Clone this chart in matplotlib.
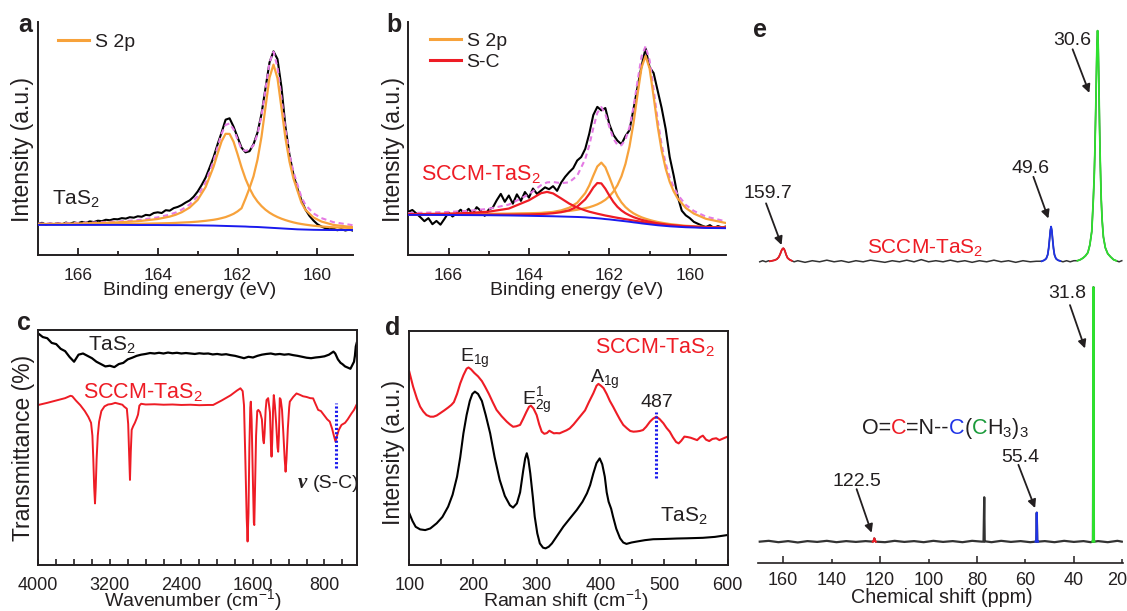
import numpy as np
import matplotlib
matplotlib.use('Agg')
import matplotlib.pyplot as plt
from matplotlib.lines import Line2D
from matplotlib import transforms

plt.rcParams['font.family'] = ['Liberation Sans', 'DejaVu Sans']
plt.rcParams['mathtext.fontset'] = 'custom'
plt.rcParams['mathtext.rm'] = 'Liberation Sans'
plt.rcParams['mathtext.it'] = 'Liberation Sans:italic'
plt.rcParams['mathtext.bf'] = 'Liberation Sans:bold'

INK = '#231f20'
ORANGE = '#f7a23b'
RED = '#ee1c25'
BLUE = '#1a1aee'
PINK = '#e47ae4'
GREEN = '#2ee02e'
E_BLUE = '#1f33e6'

# ---------------- XPS (a, b): fit components on a shared energy grid ----------------
xps_ev = [167.0, 166.5, 166.0, 165.5, 165.0, 164.5, 164.0, 163.7, 163.55, 163.4,
          163.2, 163.0, 162.8, 162.6, 162.5, 162.4, 162.3, 162.2, 162.1, 162.0,
          161.9, 161.8, 161.7, 161.6, 161.5, 161.4, 161.3, 161.2, 161.1, 161.0,
          160.9, 160.8, 160.7, 160.6, 160.5, 160.4, 160.3, 160.1, 159.9, 159.6, 159.1]

# panel a: TaS2
a_background = [12.9, 12.9, 12.9, 12.9, 12.9, 12.85, 12.85, 12.8, 12.8, 12.8,
                12.75, 12.7, 12.65, 12.6, 12.55, 12.5, 12.45, 12.4, 12.35, 12.3,
                12.25, 12.2, 12.1, 12.05, 12.0, 11.9, 11.8, 11.7, 11.6, 11.5,
                11.4, 11.3, 11.2, 11.1, 11.0, 10.95, 10.9, 10.8, 10.75, 10.7, 10.7]
a_s2p_hi = [0.37, 0.46, 0.59, 0.79, 1.09, 1.61, 2.59, 3.66, 4.45, 5.52,
            7.6, 10.9, 16.5, 25.3, 30.9, 36.2, 39.5, 39.5, 36.2, 30.9,
            25.3, 20.4, 16.5, 13.3, 10.9, 9.07, 7.6, 6.44, 5.52, 4.77,
            4.16, 3.66, 3.24, 2.88, 2.59, 2.33, 2.11, 1.75, 1.48, 1.17, 0.84]
a_s2p_lo = [0.17, 0.2, 0.25, 0.3, 0.38, 0.5, 0.69, 0.86, 0.96, 1.1,
            1.3, 1.6, 2.0, 2.5, 2.85, 3.3, 3.8, 4.5, 5.3, 6.4,
            7.8, 12.0, 16.6, 21.7, 28.9, 38.8, 51.6, 64.3, 70.0, 64.3,
            51.6, 38.8, 28.9, 21.7, 16.6, 11.5, 8.5, 5.3, 3.6, 2.2, 1.2]

# panel b: SCCM-TaS2
b_background = [17.2, 17.2, 17.15, 17.1, 17.05, 16.95, 16.8, 16.7, 16.65, 16.6,
                16.5, 16.4, 16.3, 16.15, 16.0, 15.9, 15.75, 15.6, 15.4, 15.25,
                15.05, 14.85, 14.65, 14.45, 14.25, 14.0, 13.8, 13.55, 13.35, 13.15,
                12.95, 12.75, 12.6, 12.45, 12.3, 12.2, 12.1, 11.9, 11.8, 11.6, 11.5]
b_s2p_lo = [0.27, 0.32, 0.39, 0.48, 0.61, 0.8, 1.09, 1.35, 1.52, 1.72,
            2.06, 2.49, 3.09, 3.92, 4.47, 5.13, 5.95, 6.96, 8.26, 9.93,
            12.1, 15.06, 19.05, 24.6, 32.2, 42.5, 55.0, 66.8, 72.0, 66.8,
            55.0, 42.5, 32.2, 24.6, 19.05, 15.06, 12.1, 8.26, 5.95, 3.92, 2.2]
b_s2p_hi = [0.13, 0.16, 0.2, 0.27, 0.37, 0.54, 0.88, 1.24, 1.51, 1.88,
            2.62, 3.86, 6.09, 10.4, 13.8, 18.1, 22.2, 24.0, 22.2, 18.1,
            13.8, 10.4, 7.9, 6.09, 4.8, 3.86, 3.15, 2.62, 2.21, 1.88,
            1.62, 1.41, 1.24, 1.1, 0.98, 0.88, 0.79, 0.63, 0.54, 0.43, 0.3]
b_sc_hi = [0.31, 0.41, 0.59, 0.9, 1.52, 2.96, 6.66, 9.79, 10.4, 9.79,
           7.76, 5.65, 4.06, 2.96, 2.56, 2.23, 1.95, 1.72, 1.52, 1.36,
           1.21, 1.09, 0.99, 0.9, 0.82, 0.75, 0.69, 0.64, 0.59, 0.55,
           0.51, 0.48, 0.45, 0.42, 0.39, 0.37, 0.35, 0.31, 0.28, 0.24, 0.19]
b_sc_lo = [0.08, 0.10, 0.13, 0.18, 0.25, 0.36, 0.59, 0.85, 1.04, 1.31,
           1.84, 2.75, 4.44, 7.7, 10.2, 13.0, 15.1, 15.1, 13.0, 10.2,
           7.7, 5.8, 4.44, 3.46, 2.75, 2.23, 1.84, 1.54, 1.31, 1.12,
           0.97, 0.85, 0.75, 0.67, 0.59, 0.53, 0.48, 0.39, 0.32, 0.27, 0.19]

# measured spectra, 0.1 eV steps from 167.0 to 159.1
raw_ev = np.round(np.arange(167.0, 159.05, -0.1), 1)
a_raw = [13.3, 13.8, 13.0, 13.5, 13.2, 13.7, 13.1, 13.9, 13.4, 14.0,
         13.6, 14.2, 13.8, 14.4, 14.1, 14.7, 14.5, 15.1, 14.9, 15.4,
         15.3, 15.8, 15.6, 16.2, 16.0, 16.6, 16.4, 17.2, 17.0, 18.0,
         18.3, 18.0, 19.2, 19.0, 20.1, 20.6, 21.4, 22.5, 23.4, 25.0,
         27.2, 30.0, 33.2, 37.5, 42.0, 47.5, 52.5, 58.0, 58.6, 55.0,
         50.5, 46.0, 44.0, 44.5, 47.5, 52.5, 60.5, 71.5, 82.5, 87.3,
         84.0, 72.0, 55.0, 43.0, 34.5, 28.5, 23.5, 19.5, 16.8, 14.8,
         13.2, 12.2, 11.5, 11.0, 11.3, 10.6, 11.1, 10.5, 10.9, 10.4]
b_raw = [18.5, 19.3, 17.8, 16.2, 14.5, 15.8, 13.2, 14.6, 13.0, 15.5,
         18.2, 16.5, 17.8, 19.4, 18.0, 19.8, 17.6, 20.5, 19.0, 16.8,
         19.5, 20.3, 23.5, 26.2, 22.8, 25.5, 22.0, 26.0, 23.2, 27.0,
         24.6, 28.5, 26.2, 27.6, 29.0, 28.2, 29.5, 27.5, 31.0, 33.5,
         35.5, 37.2, 40.5, 42.0, 45.5, 52.0, 60.0, 63.5, 62.0, 63.0,
         56.0, 51.5, 49.0, 47.5, 51.0, 53.5, 62.5, 72.0, 81.0, 88.5,
         80.5, 78.0, 70.5, 63.0, 54.0, 42.0, 34.0, 25.0, 19.0, 17.0,
         15.8, 14.2, 13.4, 12.6, 12.0, 12.8, 11.6, 12.4, 11.8, 12.2]

# ---------------- FTIR (c) ----------------
tas2_ir_wn = [4000, 3950, 3900, 3850, 3800, 3750, 3700, 3650, 3600, 3550,
              3500, 3450, 3400, 3350, 3300, 3250, 3200, 3150, 3100, 3050,
              3000, 2950, 2900, 2850, 2800, 2750, 2700, 2650, 2600, 2550,
              2500, 2450, 2400, 2350, 2300, 2250, 2200, 2150, 2100, 2050,
              2000, 1950, 1900, 1850, 1800, 1750, 1700, 1650, 1600, 1550,
              1500, 1450, 1400, 1350, 1300, 1250, 1200, 1150, 1100, 1050,
              1000, 950, 900, 850, 800, 750, 700, 680, 650, 620,
              600, 570, 540, 510, 490, 470, 460, 450, 440]
tas2_ir_t = [98.5, 97.0, 96.5, 94.5, 94.0, 92.0, 91.0, 88.5, 86.5, 89.5,
             90.0, 89.0, 88.0, 86.5, 85.5, 84.5, 84.8, 84.2, 85.5, 86.0,
             87.5, 88.2, 89.0, 89.5, 89.8, 90.2, 90.0, 90.3, 90.0, 90.4,
             90.1, 90.3, 90.0, 90.2, 90.0, 89.8, 90.1, 89.9, 90.0, 89.6,
             89.8, 89.5, 89.7, 89.3, 89.0, 88.5, 88.0, 88.6, 88.3, 89.0,
             89.5, 89.8, 90.0, 89.6, 89.8, 89.5, 89.7, 89.3, 89.0, 88.6,
             88.2, 88.0, 88.3, 88.5, 88.8, 89.5, 90.8, 90.0, 87.5, 86.0,
             85.5, 84.5, 84.0, 83.5, 85.0, 86.5, 89.0, 93.0, 94.5]
sccm_ir_wn = [4000, 3900, 3800, 3700, 3640, 3620, 3580, 3530, 3480, 3440,
              3410, 3395, 3385, 3375, 3366, 3358, 3348, 3335, 3320, 3295,
              3260, 3220, 3180, 3140, 3100, 3060, 3040, 3010, 2995, 2985,
              2975, 2966, 2956, 2940, 2920, 2900, 2885, 2870, 2850, 2800,
              2700, 2600, 2500, 2400, 2300, 2200, 2100, 2045, 1950, 1850,
              1780, 1740, 1715, 1700, 1685, 1670, 1660, 1650, 1640, 1630,
              1624, 1615, 1600, 1590, 1585, 1578, 1565, 1552, 1540, 1520,
              1500, 1485, 1478, 1470, 1458, 1448, 1430, 1410, 1398, 1392,
              1385, 1375, 1367, 1355, 1340, 1325, 1318, 1310, 1300, 1290,
              1275, 1260, 1245, 1235, 1225, 1210, 1195, 1188, 1150, 1113,
              1080, 1040, 1000, 960, 927, 900, 871, 840, 800, 770,
              741, 715, 695, 677, 660, 640, 610, 570, 540, 498,
              470, 443]
sccm_ir_t = [68.1, 69.0, 70.0, 71.0, 72.0, 71.8, 70.0, 68.0, 65.5, 63.0,
             60.5, 55.0, 45.0, 33.0, 26.2, 33.0, 45.0, 55.0, 61.0, 65.5,
             67.5, 68.3, 68.5, 69.0, 68.6, 68.2, 67.4, 66.5, 60.0, 48.0,
             36.2, 48.0, 57.5, 59.0, 60.5, 62.4, 64.0, 67.8, 68.6, 68.3,
             68.4, 68.2, 68.3, 68.1, 68.2, 68.0, 68.1, 68.1, 70.0, 72.2,
             74.2, 75.2, 74.0, 68.0, 45.0, 20.0, 10.0, 22.0, 50.0, 67.0,
             69.5, 62.0, 35.0, 18.0, 17.0, 30.0, 55.0, 65.5, 66.0, 65.0,
             62.0, 53.0, 51.8, 56.0, 66.0, 70.2, 71.0, 65.0, 50.0, 46.1,
             52.0, 66.0, 72.3, 68.0, 60.0, 50.0, 48.2, 55.0, 71.0, 70.5,
             66.0, 56.0, 45.0, 39.7, 45.0, 58.0, 67.0, 69.5, 71.5, 73.0,
             72.5, 71.8, 71.5, 71.0, 70.9, 68.5, 66.0, 65.5, 63.5, 62.0,
             61.0, 58.0, 55.0, 52.5, 55.0, 57.5, 59.6, 60.5, 62.0, 64.5,
             66.0, 68.1]
sc_band_wn = 666

# ---------------- Raman (d) ----------------
sccm_raman_x = [100, 106, 112, 117, 122, 127, 133, 138, 143, 148,
                155, 161, 166, 170, 175, 180, 185, 190, 193, 197,
                202, 208, 214, 219, 225, 231, 237, 245, 253, 258,
                263, 268, 274, 279, 284, 288, 291, 295, 300, 304,
                308, 312, 316, 320, 323, 327, 331, 336, 341, 347,
                352, 358, 364, 370, 376, 382, 389, 394, 397, 401,
                405, 410, 415, 420, 426, 431, 436, 442, 447, 452,
                457, 462, 467, 472, 478, 483, 488, 493, 499, 504,
                509, 514, 519, 523, 527, 532, 537, 542, 547, 552,
                557, 561, 566, 571, 576, 582, 587, 593, 600]
sccm_raman_i = [82.5, 76.1, 71.0, 67.6, 65.5, 64.0, 63.3, 63.3, 63.8, 64.7,
                66.0, 67.2, 68.3, 69.5, 73.0, 77.5, 81.0, 83.8, 84.3, 83.5,
                82.0, 80.5, 78.5, 76.1, 73.0, 69.5, 66.2, 63.5, 61.2, 60.0,
                59.0, 59.2, 59.8, 62.5, 65.4, 67.5, 68.0, 66.8, 64.0, 60.0,
                56.9, 56.0, 56.3, 57.3, 56.8, 56.2, 56.3, 56.2, 56.8, 57.5,
                58.3, 60.0, 62.0, 64.0, 66.0, 69.5, 73.3, 76.5, 77.3, 76.5,
                75.5, 73.0, 70.0, 67.6, 64.5, 62.0, 59.8, 58.3, 57.2, 56.9,
                57.0, 57.2, 57.6, 59.0, 61.2, 62.5, 63.3, 62.3, 60.5, 58.5,
                56.9, 54.5, 52.5, 51.9, 53.0, 54.8, 54.6, 54.3, 53.8, 53.3,
                54.6, 55.2, 53.5, 52.9, 53.8, 54.1, 53.3, 54.0, 54.8]
tas2_raman_x = [100, 105, 110, 117, 125, 133, 143, 152, 161, 168,
                175, 180, 185, 190, 195, 199, 203, 208, 214, 220,
                227, 234, 242, 250, 258, 263, 269, 274, 279, 282,
                284.5, 287, 290, 294, 297, 301, 305, 310, 314, 319,
                324, 333, 342, 352, 363, 372, 379, 384, 389, 394,
                399, 403, 407, 410, 413, 417, 420, 425, 431, 436,
                441, 449, 457, 470, 483, 500, 520, 536, 561, 580, 600]
tas2_raman_i = [22.1, 18.8, 16.3, 15.2, 14.9, 15.6, 17.8, 20.5, 24.9, 30.0,
                37.7, 46.0, 56.2, 64.0, 70.0, 73.0, 74.0, 73.0, 70.0, 64.0,
                56.2, 46.0, 36.3, 29.5, 25.5, 24.5, 26.3, 31.0, 40.5, 45.5,
                47.7, 45.0, 39.1, 29.0, 20.6, 13.5, 9.2, 7.4, 7.1, 7.8,
                9.2, 12.8, 16.4, 19.8, 23.5, 27.0, 30.6, 34.1, 39.1, 43.5,
                45.5, 43.0, 37.7, 31.0, 27.0, 24.0, 20.6, 15.5, 11.4, 9.6,
                9.0, 9.6, 10.0, 10.6, 11.0, 11.1, 11.3, 11.4, 11.6, 12.0, 12.8]
sc_raman_band = 487

# ---------------- 13C NMR (e) ----------------
e_top_ppm = [169.7, 168.5, 167.2, 166.0, 165.5, 164.5, 163.5, 162.6, 161.8, 161.2,
             160.7, 160.3, 160.0, 159.7, 159.3, 158.8, 158.2, 157.4, 156.5, 155.5,
             154, 151, 148, 145, 142, 139, 136, 133, 130, 127,
             124, 121, 118, 115, 112, 109, 106, 103, 100, 97,
             94, 91, 88, 85, 82, 79, 76, 73, 70, 67,
             64, 61, 58, 55.5, 53.3, 52.2, 51.4, 50.8, 50.4, 50.0,
             49.7, 49.4, 49.1, 48.8, 48.4, 48.0, 47.4, 46.6, 45.6, 44.5,
             43, 41.5, 40, 38.5, 37.3, 36.2, 35.2, 34.2, 33.4, 32.6,
             32.0, 31.6, 31.3, 31.0, 30.7, 30.45, 30.2, 29.95, 29.7, 29.4,
             29.1, 28.7, 28.3, 27.8, 27.0, 26.0, 24.8, 23.6, 22.5, 21.3, 20.2]
e_top_y = [55.7, 55.9, 55.7, 55.9, 55.8, 55.9, 56.0, 56.2, 56.6, 57.2,
           57.8, 58.1, 58.2, 58.1, 57.7, 57.0, 56.4, 56.1, 55.9, 55.7,
           55.9, 55.6, 55.9, 55.7, 56.0, 55.7, 55.9, 55.6, 55.9, 55.7,
           56.0, 55.8, 55.6, 55.9, 55.7, 56.0, 55.7, 56.1, 55.7, 55.9,
           55.7, 56.0, 55.7, 55.9, 55.6, 55.9, 55.7, 56.0, 55.7, 55.9,
           55.6, 55.9, 55.7, 55.8, 55.8, 56.0, 56.3, 57.0, 58.2, 60.0,
           61.5, 62.2, 61.5, 60.0, 58.2, 57.0, 56.3, 56.0, 55.85, 55.7,
           55.9, 55.7, 55.9, 55.9, 56.1, 56.4, 56.8, 57.4, 58.8, 61.3,
           66.8, 71.3, 76.3, 82.8, 89.8, 95.8, 98.4, 95.8, 89.8, 81.3,
           74.3, 67.3, 63.3, 60.3, 58.3, 57.2, 56.6, 56.1, 55.9, 55.7, 55.9]
e_ref_ppm = [169.7, 166, 162, 158, 154, 150, 146, 142, 138, 134,
             130, 126, 123.0, 122.6, 122.4, 122.2, 121.8, 118, 114, 110,
             106, 102, 98, 94, 90, 86, 82, 78, 77.3, 77.0,
             76.8, 76.5, 74, 70, 66, 62, 58, 55.8, 55.5, 55.3,
             55.1, 54.8, 52, 48, 44, 40, 36, 33, 32.3, 32.1,
             31.9, 31.7, 31.5, 30, 26, 22, 20.2]
e_ref_y = [4.0, 4.15, 3.9, 4.1, 3.85, 4.1, 3.95, 4.15, 3.9, 4.1,
           3.95, 4.1, 4.0, 4.2, 4.6, 4.2, 4.0, 3.9, 4.15, 3.95,
           4.1, 3.9, 4.15, 3.95, 4.1, 3.9, 4.15, 4.0, 4.0, 12.2,
           4.0, 4.05, 3.9, 4.15, 3.95, 4.1, 3.9, 4.0, 4.0, 9.35,
           4.0, 4.0, 4.1, 3.9, 4.15, 3.95, 4.1, 3.9, 4.0, 4.0,
           51.0, 4.0, 4.0, 4.1, 3.9, 4.15, 4.0]
e_top_segments = [(RED, 165.5, 156.5), (E_BLUE, 53.3, 45.6), (GREEN, 38.5, 22.5)]
e_ref_segments = [(RED, 123.0, 121.8), (E_BLUE, 55.8, 54.8), (GREEN, 32.3, 31.5)]


def chain_text(ax, x, y, parts, **kw):
    """draw consecutive text pieces in different colours on one baseline"""
    renderer = ax.figure.canvas.get_renderer()
    shift = 0.0
    for piece, color in parts:
        tr = transforms.offset_copy(ax.transData, fig=ax.figure, x=shift, y=0, units='dots')
        t = ax.text(x, y, piece, color=color, ha='left', va='baseline', transform=tr, **kw)
        shift += t.get_window_extent(renderer).width


def style_xps(ax):
    ax.set_xlim(167, 159.1)
    ax.set_ylim(0, 100)
    for s in ('top', 'right'):
        ax.spines[s].set_visible(False)
    for s in ('left', 'bottom'):
        ax.spines[s].set_linewidth(1.4)
        ax.spines[s].set_color(INK)
    ax.set_yticks([])
    ax.set_xticks([166, 164, 162, 160])
    ax.set_xticks([165, 163, 161], minor=True)
    ax.tick_params(axis='x', which='both', direction='in', color=INK, labelcolor=INK,
                   labelsize=12.5, pad=9.0, width=1.3)
    ax.tick_params(axis='x', which='major', length=5)
    ax.tick_params(axis='x', which='minor', length=3)


def style_box(ax):
    for s in ax.spines.values():
        s.set_linewidth(1.4)
        s.set_color(INK)
    ax.set_yticks([])
    ax.tick_params(axis='x', which='both', direction='in', color=INK, labelcolor=INK,
                   labelsize=13, pad=8.4, width=1.2, length=4)


def s2p_legend(ax, handles, labels, anchor):
    ax.legend(handles=handles, labels=labels, loc='upper left', bbox_to_anchor=anchor,
              frameon=False, fontsize=14, handlelength=1.6, handletextpad=0.3,
              borderpad=0.2, borderaxespad=0, labelspacing=0.15, labelcolor=INK)


fig = plt.figure(figsize=(11.27, 6.11), dpi=100)
ax_a = fig.add_axes([0.03372, 0.58265, 0.27977, 0.38183])
ax_b = fig.add_axes([0.36229, 0.58265, 0.28190, 0.38183])
ax_c = fig.add_axes([0.03398, 0.07529, 0.28252, 0.38462])
ax_d = fig.add_axes([0.36317, 0.07529, 0.28252, 0.38347])
ax_e = fig.add_axes([0.67285, 0.07807, 0.32360, 0.88592])

# ---- a ----
ev = np.array(xps_ev)
bg = np.array(a_background)
c1 = np.array(a_s2p_hi)
c2 = np.array(a_s2p_lo)
ax_a.plot(raw_ev, a_raw, color='black', lw=1.5, zorder=3)
ax_a.plot(ev, bg + c1 + c2, color=PINK, lw=1.5, ls=(0, (2.5, 1.8)), zorder=4)
ax_a.plot(ev, bg + c1, color=ORANGE, lw=1.6, zorder=5)
ax_a.plot(ev, bg + c2, color=ORANGE, lw=1.6, zorder=5)
ax_a.plot(ev, bg, color=BLUE, lw=1.4, zorder=6)
style_xps(ax_a)
s2p_legend(ax_a, [Line2D([], [], color=ORANGE, lw=2.2)], ['S 2p'], (0.05, 0.968))
ax_a.text(166.64, 21.4, 'TaS$_2$', fontsize=15, color=INK, ha='left', va='baseline')

# ---- b ----
bg = np.array(b_background)
o1 = np.array(b_s2p_lo)
o2 = np.array(b_s2p_hi)
r1 = np.array(b_sc_hi)
r2 = np.array(b_sc_lo)
ax_b.plot(raw_ev, b_raw, color='black', lw=1.5, zorder=3)
ax_b.plot(ev, bg + o1 + o2 + r1 + r2, color=PINK, lw=1.5, ls=(0, (2.5, 1.8)), zorder=4)
ax_b.plot(ev, bg + o1, color=ORANGE, lw=1.6, zorder=5)
ax_b.plot(ev, bg + o2, color=ORANGE, lw=1.6, zorder=5)
ax_b.plot(ev, bg + r1, color=RED, lw=1.6, zorder=5)
ax_b.plot(ev, bg + r2, color=RED, lw=1.6, zorder=5)
ax_b.plot(ev, bg, color=BLUE, lw=1.4, zorder=6)
style_xps(ax_b)
s2p_legend(ax_b, [Line2D([], [], color=ORANGE, lw=2.2), Line2D([], [], color=RED, lw=2.2)],
           ['S 2p', 'S-C'], (0.055, 0.97))
ax_b.text(166.69, 32.1, 'SCCM-TaS$_2$', fontsize=15.5, color=RED, ha='left', va='baseline')

# ---- c ----
ax_c.plot(tas2_ir_wn, tas2_ir_t, color='black', lw=1.6)
ax_c.plot(sccm_ir_wn, sccm_ir_t, color=RED, lw=1.4)
ax_c.vlines(sc_band_wn, 41.1, 68.8, colors=BLUE, lw=2.2, linestyles=(0, (0.7, 0.7)))
ax_c.set_xlim(4000, 440)
ax_c.set_ylim(0, 100)
style_box(ax_c)
ax_c.set_xticks([4000, 3200, 2400, 1600, 800])
ax_c.set_xticks(list(range(3800, 440, -200)), minor=True)
ax_c.text(3441, 91.1, 'TaS$_2$', fontsize=15, color=INK, ha='left', va='baseline')
ax_c.text(3497, 71.1, 'SCCM-TaS$_2$', fontsize=15.5, color=RED, ha='left', va='baseline')
ax_c.text(1095, 32.6, 'ν', fontsize=15, color=INK, ha='left', va='baseline',
          family='Liberation Serif', weight='bold', style='italic')
ax_c.text(927, 32.6, '(S-C)', fontsize=14, color=INK, ha='left', va='baseline')

# ---- d ----
ax_d.plot(sccm_raman_x, sccm_raman_i, color=RED, lw=1.5)
ax_d.plot(tas2_raman_x, tas2_raman_i, color='black', lw=1.5)
ax_d.vlines(sc_raman_band, 37.0, 65.2, colors=BLUE, lw=2.2, linestyles=(0, (0.7, 0.7)))
ax_d.set_xlim(100, 600)
ax_d.set_ylim(0, 100)
style_box(ax_d)
ax_d.set_xticks([100, 200, 300, 400, 500, 600])
ax_d.set_xticks([150, 250, 350, 450, 550], minor=True)
ax_d.text(179.6, 86.8, 'E$_{\\mathrm{1g}}$', fontsize=14, color=INK, ha='left', va='baseline')
ax_d.text(276.5, 68.3, 'E$^{\\mathrm{1}}_{\\mathrm{2g}}$', fontsize=14, color=INK, ha='left', va='baseline')
ax_d.text(383.8, 77.5, 'A$_{\\mathrm{1g}}$', fontsize=14, color=INK, ha='left', va='baseline')
ax_d.text(488.5, 67.6, '487', fontsize=14, color=INK, ha='center', va='baseline')
ax_d.text(391.6, 90.4, 'SCCM-TaS$_2$', fontsize=15.5, color=RED, ha='left', va='baseline')
ax_d.text(493.7, 18.5, 'TaS$_2$', fontsize=15, color=INK, ha='left', va='baseline')

# ---- e ----
tx = np.array(e_top_ppm)
ty = np.array(e_top_y)
rx = np.array(e_ref_ppm)
ry = np.array(e_ref_y)
ax_e.plot(tx, ty, color='#333333', lw=1.1)
for col, hi, lo in e_top_segments:
    m = (tx <= hi) & (tx >= lo)
    ax_e.plot(tx[m], ty[m], color=col, lw=1.3)
ax_e.plot(rx, ry, color='#333333', lw=1.6)
for col, hi, lo in e_ref_segments:
    m = (rx <= hi) & (rx >= lo)
    ax_e.plot(rx[m], ry[m], color=col, lw=1.5)
ax_e.set_xlim(170.3, 19.7)
ax_e.set_ylim(0, 100)
for s in ('top', 'right', 'left'):
    ax_e.spines[s].set_visible(False)
ax_e.spines['bottom'].set_linewidth(1.2)
ax_e.spines['bottom'].set_color(INK)
ax_e.set_yticks([])
ax_e.set_xticks([160, 120, 80, 40])
ax_e.set_xticks([140, 100, 60, 20], labels=['140', '100', '60', '20'], minor=True)
ax_e.tick_params(axis='x', which='both', direction='in', color=INK, labelcolor=INK,
                 labelsize=13, pad=6.0, width=1.1)
ax_e.tick_params(axis='x', which='major', length=5)
ax_e.tick_params(axis='x', which='minor', length=3)
# keep the last label ("20") inside the right edge of the figure
last = ax_e.xaxis.get_minor_ticks()[-1].label1
last.set_transform(last.get_transform() + transforms.ScaledTranslation(-5 / 100, 0, fig.dpi_scale_trans))

peak_labels = ['30.6', '159.7', '49.6', '31.8', '55.4', '122.5']
label_pos = [(40.5, 95.75), (166.2, 67.4), (58.1, 72.05), (42.9, 49.07), (62.2, 18.77), (129.4, 14.28)]
arrow_pos = [((40.5, 94.96), (33.6, 86.9)), ((167.1, 66.5), (160.7, 58.8)),
             ((56.7, 71.4), (50.5, 63.7)), ((41.6, 47.7), (35.4, 39.7)),
             ((62.9, 18.2), (56.0, 10.2)), ((129.7, 13.7), (123.5, 5.65))]
for lab, (lx, ly), (start, end) in zip(peak_labels, label_pos, arrow_pos):
    ax_e.text(lx, ly, lab, fontsize=14, color=INK, ha='center', va='baseline')
    ax_e.annotate('', xy=end, xytext=start,
                  arrowprops=dict(arrowstyle='-|>', color=INK, lw=1.3, mutation_scale=12,
                                  shrinkA=0, shrinkB=0))
ax_e.text(125.6, 57.27, 'SCCM-TaS$_2$', fontsize=15, color=RED, ha='left', va='baseline')
chain_text(ax_e, 127.6, 23.9,
           [('O=', INK), ('C', RED), ('=N--', INK), ('C', E_BLUE), ('(', INK),
            ('C', '#1a9a3a'), ('H$_3$)$_3$', INK)], fontsize=15.5)

# ---- axis titles and panel letters ----
fig.text(0.0204, 0.7561, 'Intensity (a.u.)', rotation=90, ha='center', va='center', fontsize=16.5, color=INK)
fig.text(0.349, 0.7561, 'Intensity (a.u.)', rotation=90, ha='center', va='center', fontsize=16.5, color=INK)
fig.text(0.0207, 0.2676, 'Transmittance (%)', rotation=90, ha='center', va='center', fontsize=16.5, color=INK)
fig.text(0.349, 0.2594, 'Intensity (a.u.)', rotation=90, ha='center', va='center', fontsize=16.5, color=INK)
fig.text(0.1686, 0.518, 'Binding energy (eV)', ha='center', va='baseline', fontsize=14, color=INK)
fig.text(0.5117, 0.518, 'Binding energy (eV)', ha='center', va='baseline', fontsize=14, color=INK)
fig.text(0.1708, 0.0085, 'Wavenumber (cm$^{-1}$)', ha='center', va='baseline', fontsize=14, color=INK)
fig.text(0.502, 0.0085, 'Raman shift (cm$^{-1}$)', ha='center', va='baseline', fontsize=14, color=INK)
fig.text(0.8356, 0.0125, 'Chemical shift (ppm)', ha='center', va='baseline', fontsize=14.2, color=INK)
for letter, (fx, fy) in zip('abcde', [(0.016, 0.9476), (0.3431, 0.948), (0.0148, 0.4599),
                                      (0.3416, 0.4517), (0.6684, 0.940)]):
    fig.text(fx, fy, letter, ha='left', va='baseline', fontsize=18, weight='bold', color=INK)

fig.savefig('out.png', dpi=100)
